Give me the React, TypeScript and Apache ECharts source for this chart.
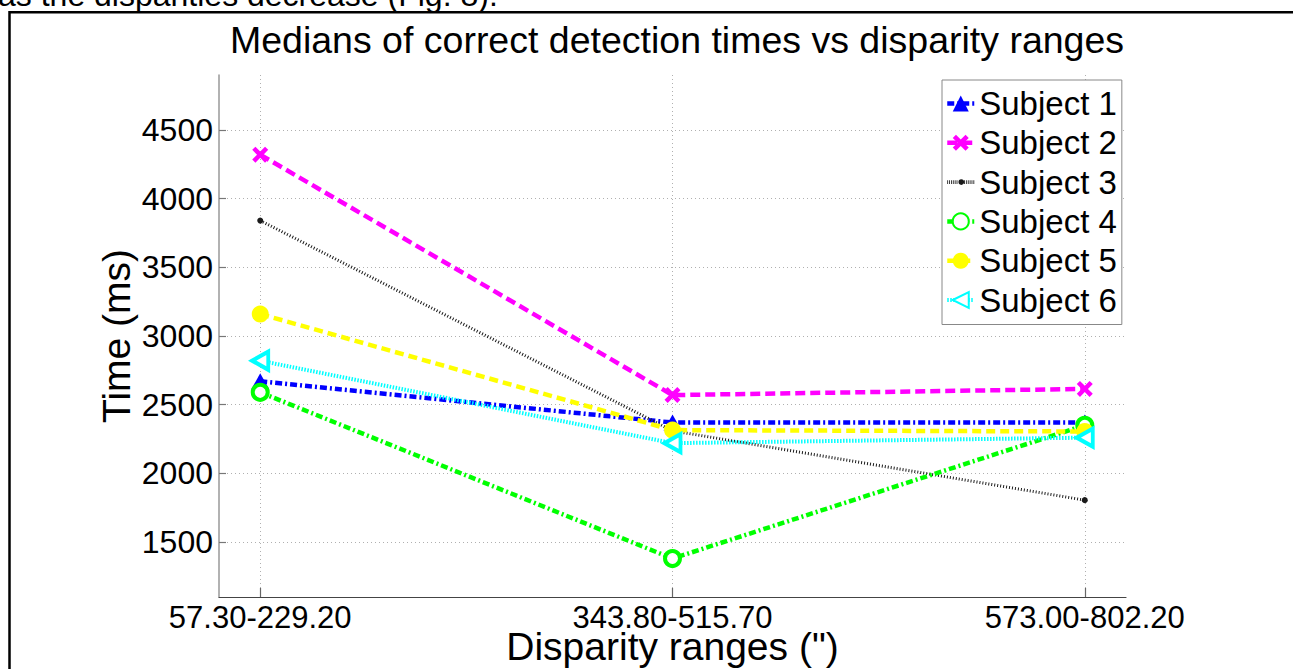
import React, { useEffect, useRef } from "react";
import * as echarts from "echarts";

const categories = ["57.30-229.20", "343.80-515.70", "573.00-802.20"];
const xPositions = [1, 2, 3];
const yTicks = [1500, 2000, 2500, 3000, 3500, 4000, 4500];

const subject1 = [2670, 2370, 2370];
const subject2 = [4320, 2570, 2615];
const subject3 = [3840, 2310, 1805];
const subject4 = [2590, 1380, 2350];
const subject5 = [3160, 2315, 2305];
const subject6 = [2820, 2220, 2260];

const seriesNames = ["Subject 1", "Subject 2", "Subject 3", "Subject 4", "Subject 5", "Subject 6"];

const titleText = "Medians of correct detection times vs disparity ranges";
const xName = "Disparity ranges (\")";
const yName = "Time (ms)";
const topFragment = "as the disparities decrease (Fig. 8).";

const FONT = "Liberation Sans, Arial, Helvetica, sans-serif";
const X_PATH = "path://M2,0 L5,3 L8,0 L10,2 L7,5 L10,8 L8,10 L5,7 L2,10 L0,8 L3,5 L0,2 Z";

// legend icon for the dotted black series: hatched short bars plus a small dot
function hatchedIcon() {
  let d = "";
  for (let x = 0; x < 30; x += 2) {
    if (x >= 12 && x <= 17) continue;
    d += `M${x},8 L${x + 0.9},8 L${x + 0.9},12 L${x},12 Z `;
  }
  d += "M12,10 A3,3 0 1 0 18,10 A3,3 0 1 0 12,10 Z";
  return "path://" + d;
}

function toPoints(values: number[]) {
  return values.map((v, i) => [xPositions[i], v]);
}

export default function App() {
  const ref = useRef<HTMLDivElement>(null);

  useEffect(() => {
    if (!ref.current) return;
    const chart = echarts.init(ref.current, undefined, { renderer: "svg" });

    const styles = [
      { color: "#0000ff", fill: "#0000ff", dash: [7, 3, 2, 3], width: 4.5, symbol: "triangle", size: [18, 16], rotate: 0, bw: 0 },
      { color: "#ff00ff", fill: "#ff00ff", dash: [10, 5], width: 4.5, symbol: X_PATH, size: 16, rotate: 0, bw: 0 },
      { color: "#1a1a1a", fill: "#1a1a1a", dash: [1, 2], width: 3, symbol: "circle", size: 6, rotate: 0, bw: 0 },
      { color: "#00ff00", fill: "#ffffff", dash: [7, 3, 2, 3], width: 4.5, symbol: "circle", size: 15, rotate: 0, bw: 4 },
      { color: "#ffff00", fill: "#ffff00", dash: [9, 5], width: 4.5, symbol: "circle", size: 17, rotate: 0, bw: 0 },
      { color: "#00ffff", fill: "#ffffff", dash: [1.5, 1.5], width: 4, symbol: "triangle", size: [18, 16], rotate: 90, bw: 4 },
    ];
    const datasets = [subject1, subject2, subject3, subject4, subject5, subject6];

    const series = datasets.map((vals, i) => {
      const s = styles[i];
      return {
        name: seriesNames[i],
        type: "line",
        data: toPoints(vals),
        symbol: s.symbol,
        symbolSize: s.size,
        symbolRotate: s.rotate,
        showAllSymbol: true,
        lineStyle: { color: s.color, width: s.width, type: s.dash, cap: "butt" },
        itemStyle: { color: s.fill, borderColor: s.color, borderWidth: s.bw },
        emphasis: { disabled: true },
        z: 2 + i * 0.01,
      };
    });

    const legendData = seriesNames.map((n, i) =>
      i === 2 ? { name: n, icon: hatchedIcon(), itemStyle: { color: "#1a1a1a" } } : { name: n }
    );

    chart.setOption({
      animation: false,
      backgroundColor: "#ffffff",
      textStyle: { fontFamily: FONT },
      title: {
        text: titleText,
        left: 672,
        textAlign: "center",
        top: 16,
        textStyle: { fontFamily: FONT, fontSize: 37.5, fontWeight: "normal", color: "#000" },
      },
      grid: { left: 219, top: 75, right: 167, bottom: 72, containLabel: false, outerBoundsMode: "none" },
      xAxis: {
        type: "value",
        min: 0.9,
        max: 3.1,
        name: xName,
        nameLocation: "middle",
        nameGap: 34.5,
        nameMoveOverlap: false,
        nameTextStyle: { fontFamily: FONT, fontSize: 39, lineHeight: 30, color: "#000" },
        axisLine: { show: true, onZero: false, lineStyle: { color: "#444", width: 1.2 } },
        axisTick: { show: true, inside: true, length: 9, customValues: xPositions, lineStyle: { color: "#666", width: 1.2 } },
        axisLabel: {
          customValues: xPositions,
          margin: 8.5,
          fontFamily: FONT,
          fontSize: 31,
          lineHeight: 24,
          color: "#000",
          formatter: (v: number) => categories[Math.round(v) - 1] ?? "",
        },
        splitLine: { show: true, lineStyle: { color: "#b0b0b0", width: 1, type: [1, 3] } },
      },
      yAxis: {
        type: "value",
        min: 1100,
        max: 4900,
        name: yName,
        nameLocation: "middle",
        nameGap: 83,
        nameRotate: 90,
        nameMoveOverlap: false,
        nameTextStyle: { fontFamily: FONT, fontSize: 39, color: "#000" },
        axisLine: { show: true, onZero: false, lineStyle: { color: "#999", width: 1.5 } },
        axisTick: { show: true, inside: true, length: 7, customValues: yTicks, lineStyle: { color: "#777", width: 1.2 } },
        axisLabel: {
          customValues: yTicks,
          margin: 6,
          fontFamily: FONT,
          fontSize: 32,
          color: "#000",
          formatter: (v: number) => String(v),
        },
        splitLine: { show: true, lineStyle: { color: "#b0b0b0", width: 1, type: [1, 3] } },
      },
      legend: {
        show: true,
        orient: "vertical",
        left: 942,
        top: 80,
        itemWidth: 27,
        itemHeight: 20,
        itemGap: 6.3,
        padding: [7, 5, 8, 3],
        backgroundColor: "#fff",
        borderColor: "#888",
        borderWidth: 1,
        borderRadius: 0,
        lineStyle: { width: "inherit" },
        textStyle: { fontFamily: FONT, fontSize: 33, lineHeight: 32, color: "#000" },
        data: legendData,
        selectedMode: false,
      },
      graphic: [
        {
          type: "rect",
          shape: { x: 9.5, y: 12.2, width: 1500, height: 900 },
          style: { fill: "none", stroke: "#000", lineWidth: 2.5 },
          silent: true,
          z: 100,
        },
        {
          type: "text",
          x: -2,
          y: -5,
          style: {
            text: topFragment,
            fontFamily: FONT,
            fontSize: 32,
            fill: "#000",
            verticalAlign: "middle",
            align: "left",
          },
          silent: true,
          z: 100,
        },
      ],
      series,
    });

    return () => chart.dispose();
  }, []);

  return (
    <div
      ref={ref}
      style={{ position: "fixed", left: 0, top: 0, width: 1293, height: 669, background: "#fff" }}
    />
  );
}
